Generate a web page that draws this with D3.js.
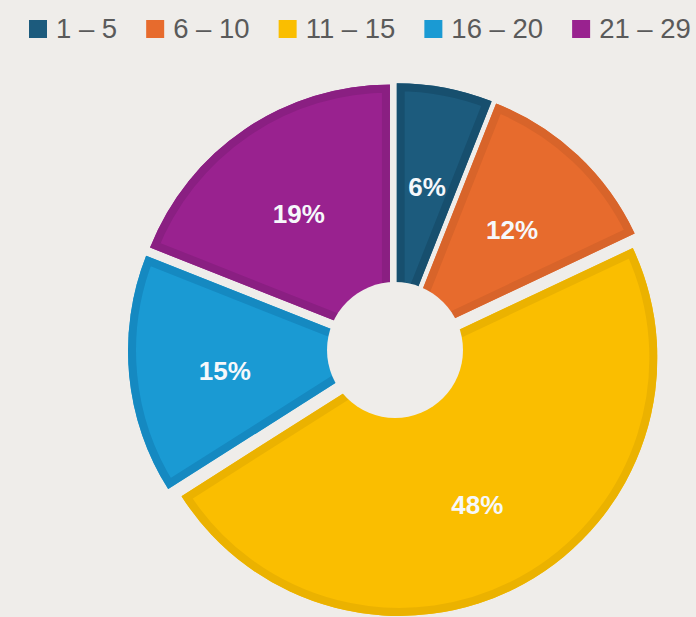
<!DOCTYPE html>
<html>
<head>
<meta charset="utf-8">
<script src="https://cdn.jsdelivr.net/npm/d3@7"></script>
<style>
  html, body { margin: 0; padding: 0; background: #efedea; }
  svg { display: block; }
</style>
</head>
<body>
<svg id="chart" width="696" height="617"></svg>
<script>
// ---- data ----
const categories = ["1 – 5", "6 – 10", "11 – 15", "16 – 20", "21 – 29"];
const values = [6, 12, 48, 15, 19];
const fills = ["#1c5b7d", "#e76b2d", "#fabe00", "#1a9ad3", "#99228f"];
const borders = ["#174f6e", "#d8642a", "#ebb200", "#1589c1", "#8a1f82"];

const W = 696, H = 617;
const svg = d3.select("#chart");
svg.append("rect").attr("width", W).attr("height", H).attr("fill", "#efedea");

const cx = 395, cy = 350, R = 258, explode = 9, holeR = 68;
const data = categories.map((c, i) => ({ cat: c, value: values[i], i }));
const pie = d3.pie().sort(null).value(d => d.value).startAngle(0).endAngle(2 * Math.PI);
const arcs = pie(data);
const arc = d3.arc().innerRadius(0).outerRadius(R);
const labelArc = d3.arc().innerRadius(162).outerRadius(162);
const total = d3.sum(values);

const defs = svg.append("defs");

arcs.forEach((a, i) => {
  const mid = (a.startAngle + a.endAngle) / 2;
  const dx = Math.sin(mid) * explode, dy = -Math.cos(mid) * explode;
  const sg = svg.append("g").attr("transform", `translate(${cx + dx},${cy + dy})`);
  const id = "clip" + i;
  defs.append("clipPath").attr("id", id).append("path").attr("d", arc(a));
  sg.append("path").attr("d", arc(a)).attr("fill", fills[i]);
  // inner border (stroke clipped to the slice itself)
  sg.append("path").attr("d", arc(a))
    .attr("fill", "none").attr("stroke", borders[i]).attr("stroke-width", 16)
    .attr("stroke-linejoin", "miter")
    .attr("clip-path", `url(#${id})`);
});

// center hole
svg.append("circle").attr("cx", cx).attr("cy", cy).attr("r", holeR).attr("fill", "#efedea");

// labels
arcs.forEach((a, i) => {
  const mid = (a.startAngle + a.endAngle) / 2;
  const dx = Math.sin(mid) * explode, dy = -Math.cos(mid) * explode;
  const [lx, ly] = labelArc.centroid(a);
  svg.append("text")
    .attr("x", cx + lx + dx).attr("y", cy + ly + dy + 14)
    .attr("text-anchor", "middle")
    .attr("font-family", "Liberation Sans, Arial, sans-serif")
    .attr("font-weight", "bold").attr("font-size", 26)
    .attr("fill", "#f6f8fb")
    .text(Math.round(a.data.value / total * 100) + "%");
});

// legend
const leg = svg.append("g");
let x = 29;
categories.forEach((c, i) => {
  leg.append("rect").attr("x", x).attr("y", 20).attr("width", 18).attr("height", 18).attr("fill", fills[i]);
  const t = leg.append("text").attr("x", x + 27).attr("y", 38)
    .attr("font-family", "Liberation Sans, Arial, sans-serif")
    .attr("font-size", 27.5).attr("fill", "#5a5a5a").text(c);
  const w = t.node().getComputedTextLength();
  x = x + 27 + w + 29;
});
</script>
</body>
</html>
